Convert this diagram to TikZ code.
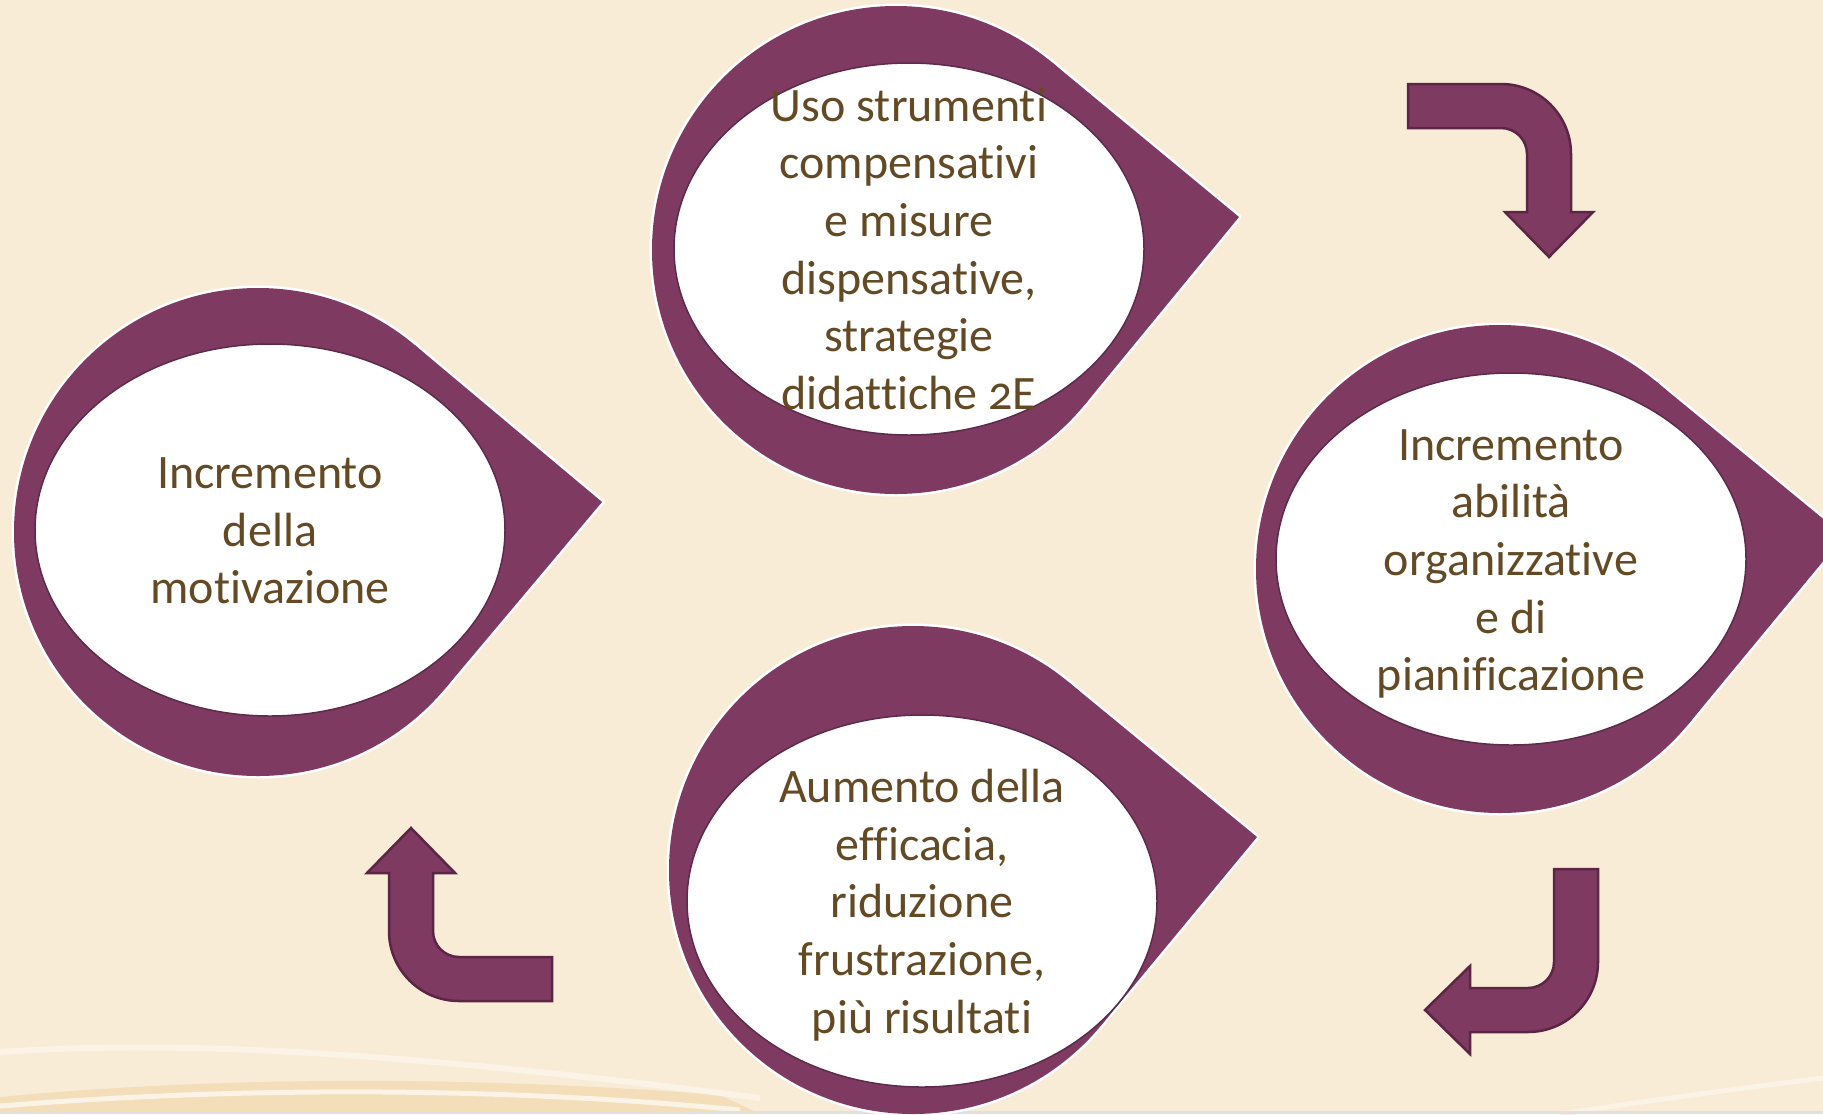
\documentclass[tikz,border=0pt]{standalone}
\usepackage{fontspec}
\setmainfont[Ligatures=NoCommon,Numbers=OldStyle]{Carlito}
\usepackage{tikz}
\usetikzlibrary{calc,shapes.geometric}
\definecolor{PageCream}{HTML}{F8ECD7}
\definecolor{WaveTan}{HTML}{F3DEB9}
\definecolor{WaveLight}{HTML}{FBF3E6}
\definecolor{DropPurple}{HTML}{7F3A61}
\definecolor{ArrowEdge}{HTML}{5C2545}
\definecolor{HoleEdge}{HTML}{5C2A4A}
\definecolor{TextBrown}{HTML}{634A24}
\tikzset{
  % Outer teardrop
  ring/.style={circle,minimum size=488pt,inner sep=0pt,outer sep=0pt},
  rim/.style={draw=white,line width=5pt,line join=round},
  body/.style={fill=DropPurple},
  % White ellipse and its text
  hole/.style={ellipse,fill=white,draw=HoleEdge,line width=1.5pt,
               minimum width=470pt,minimum height=372pt,inner sep=0pt},
  holetext/.style={align=center,text=TextBrown,inner sep=0pt,
               font=\fontsize{48}{57.7}\selectfont},
  % Bent arrow
  bentline/.style={fill=DropPurple,draw=ArrowEdge,line width=2.5pt},
  pics/bentarrow/.style={code={
    \draw[bentline] (-93,-70) -- (0,-70) arc[start angle=270,end angle=360,radius=70]
      -- (70,58) -- (92,58) -- (48,103) -- (4,58) -- (26,58)
      -- (26,0) arc[start angle=0,end angle=-90,radius=26] -- (-93,-26) -- cycle;
  }}
}
\newcommand\teardrop[2]{%
  \path[rim] (#1.center) circle[radius=244];
  \path[rim] (#2) -- (tangent cs:node=#1,point={(#2)},solution=1)
    -- (tangent cs:node=#1,point={(#2)},solution=2) -- cycle;
  \path[body] (#1.center) circle[radius=244];
  \path[body] (#2) -- (tangent cs:node=#1,point={(#2)},solution=1)
    -- (tangent cs:node=#1,point={(#2)},solution=2) -- cycle;
}

\begin{document}
\begin{tikzpicture}[x=1pt,y=-1pt]
  \clip (0,0) rectangle (1823,1114);
  \fill[PageCream] (0,0) rectangle (1823,1114);
  % waves at the bottom
  \fill[WaveTan] (0,1114) -- (0,1097) .. controls (200,1078) and (450,1074) .. (720,1095) -- (760,1114) -- cycle;
  \draw[WaveLight,line width=5pt] (0,1106) .. controls (220,1088) and (480,1085) .. (740,1110);
  \draw[WaveLight,line width=6pt] (0,1052) .. controls (150,1042) and (350,1045) .. (760,1098);
  \draw[WaveLight,line width=5pt] (1560,1114) .. controls (1680,1096) and (1760,1086) .. (1823,1078);
  \fill[black!12] (0,1111) rectangle (1823,1114);

  % teardrops
  \node[ring] (c1) at (896,250) {};
  \coordinate (t1) at (1239,217);
  \teardrop{c1}{t1}
  \node[hole] (e1) at (909,249) {};
  \node[holetext] (tools) at (909,249) {Uso strumenti\\compensativi\\e misure\\dispensative,\\strategie\\didattiche 2E};

  \node[ring] (c2) at (1500,569) {};
  \coordinate (t2) at (1844,536);
  \teardrop{c2}{t2}
  \node[hole] (e2) at (1511,559) {};
  \node[holetext] (skills) at (1511,564) {Incremento\\abilità\\organizzative\\e di\\pianificazione};

  \node[ring] (c3) at (913,870) {};
  \coordinate (t3) at (1257,837);
  \teardrop{c3}{t3}
  \node[hole] (e3) at (922,901) {};
  \node[holetext] (efficacy) at (922,905) {Aumento della\\efficacia,\\riduzione\\frustrazione,\\più risultati};

  \node[ring] (c4) at (258,532) {};
  \coordinate (t4) at (602,502);
  \teardrop{c4}{t4}
  \node[hole] (e4) at (270,530) {};
  \node[holetext] (motivation) at (270,531) {Incremento\\della\\motivazione};

  % bent arrows
  \pic at (1501,154) {bentarrow};
  \pic[rotate=-90] at (1528,962) {bentarrow};
  \pic[rotate=180] at (459,931) {bentarrow};
\end{tikzpicture}
\end{document}
